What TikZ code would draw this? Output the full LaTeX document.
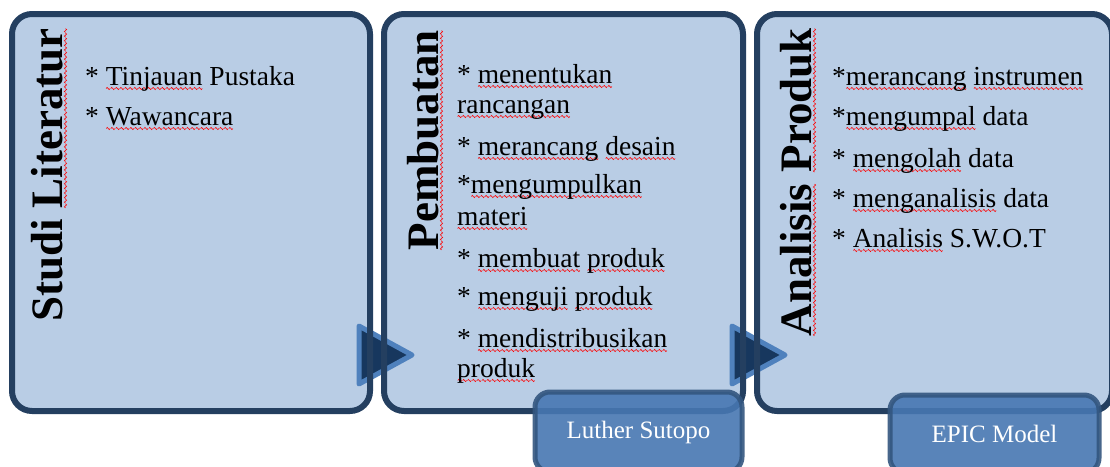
\documentclass[tikz,border=0pt]{standalone}
\usepackage{fontspec}
\setmainfont{Liberation Serif}
\usepackage{tikz}

\definecolor{boxfill}{HTML}{B9CDE5}
\definecolor{boxline}{HTML}{243F60}
\definecolor{trifill}{HTML}{17375E}
\definecolor{midblue}{HTML}{4F81BD}
\definecolor{tagfill}{HTML}{4777B2}
\definecolor{tagline}{HTML}{33567F}

% red wavy underline (spell check marks)
\newsavebox\wavebox
\newsavebox\wordbox
\sbox\wavebox{\tikz[baseline=0pt]\draw[red, line width=0.6pt] (0,0) sin (1pt,1.1pt) cos (2pt,0) sin (3pt,-1.1pt) cos (4pt,0);}
\newcommand{\sq}[1]{\sbox\wordbox{#1}\rlap{\lower3.5pt\hbox to \wd\wordbox{\xleaders\copy\wavebox\hfil}}\usebox\wordbox}

\tikzset{
  box/.style={fill=boxfill, rounded corners=20pt, minimum width=358pt, minimum height=397pt, inner sep=0pt, outer sep=0pt},
  rim/.style={draw=boxline, line width=6pt, rounded corners=20pt},
  tri/.style={fill=trifill, draw=midblue, line width=5pt, line join=round},
  title/.style={rotate=90, anchor=base east, inner sep=0pt, font=\fontsize{45}{45}\selectfont\bfseries},
  item/.style={anchor=base west, inner sep=0pt, font=\fontsize{27.5}{31}\selectfont},
  tag/.style={fill=tagfill, draw=tagline, line width=5pt, rounded corners=15pt, opacity=0.9, text opacity=1, text=white, font=\fontsize{25}{25}\selectfont, minimum width=207pt, minimum height=80pt}
}

\begin{document}
\begin{tikzpicture}[x=1pt,y=-1pt]
\path[use as bounding box, fill=white] (0,0) rectangle (1110,466);
% boxes
\node[box] (studi) at (191,212.5) {};
\node[box, minimum width=359pt] (buat) at (563.5,212.5) {};
\node[box, minimum width=355pt] (analisis) at (934.5,212.5) {};
% arrows
\draw[tri] (359,326) -- (412,355) -- (359,384) -- cycle;
\draw[tri] (732,326) -- (785,355) -- (732,384) -- cycle;
\foreach \b in {studi,buat,analisis}
  \draw[rim] (\b.south west) rectangle (\b.north east);
% titles
\node[title] (t1) at (62,28) {Studi \sq{Literatur}};
\node[title] (t2) at (438,30) {\sq{Pembuatan}};
\node[title] (t3) at (811,28) {\sq{Analisis} \sq{Produk}};
% items
\foreach \y/\t [count=\i] in {85/{* \sq{Tinjauan} Pustaka}, 125/{* \sq{Wawancara}}}
  \node[item] (s\i) at (85,\y) {\t};
\foreach \y/\t [count=\i] in {83/{* \sq{menentukan}}, 113/{\sq{rancangan}}, 155/{* \sq{merancang} \sq{desain}}, 193/{*\sq{mengumpulkan}}, 225/{\sq{materi}}, 267/{* \sq{membuat} \sq{produk}}, 305/{* \sq{menguji} \sq{produk}}, 347/{* \sq{mendistribusikan}}, 377/{\sq{produk}}}
  \node[item] (p\i) at (457,\y) {\t};
\foreach \y/\t [count=\i] in {85/{*\sq{merancang} \sq{instrumen}}, 125/{*\sq{mengumpal} data}, 167/{* \sq{mengolah} data}, 207/{* \sq{menganalisis} data}, 247/{* \sq{Analisis} S.W.O.T}}
  \node[item] (a\i) at (832,\y) {\t};
% tags
\node[tag] (luther) at (638.5,432) {Luther Sutopo};
\node[tag, minimum width=209pt, minimum height=78pt] (epic) at (994.5,434) {EPIC Model};
\end{tikzpicture}
\end{document}
